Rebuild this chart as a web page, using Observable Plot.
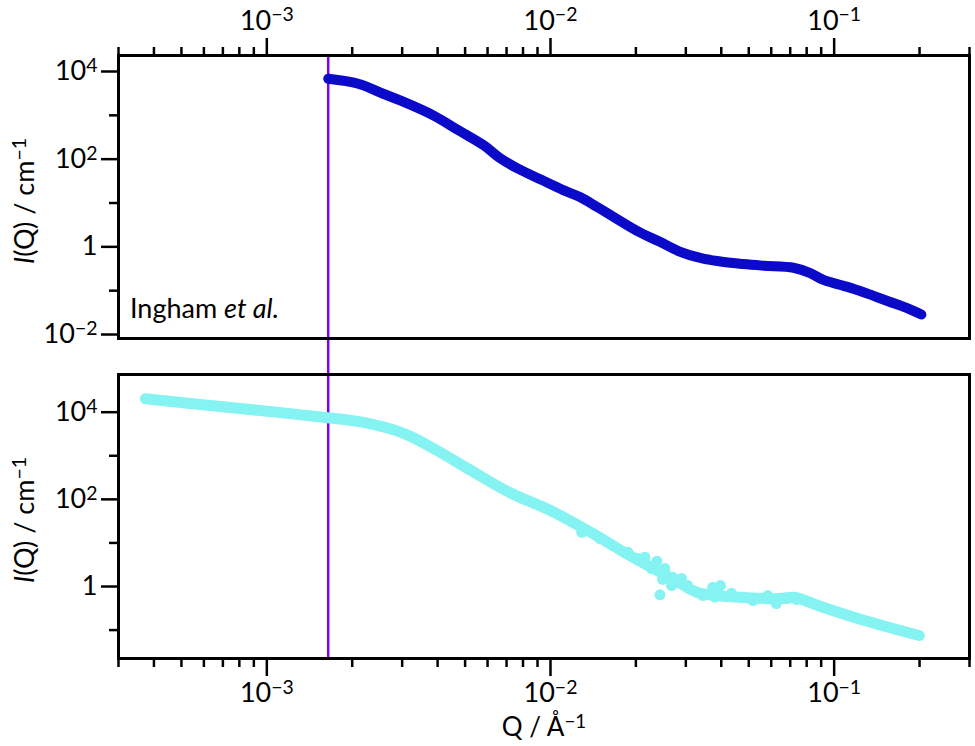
<!DOCTYPE html>
<html><head><meta charset="utf-8">
<script src="https://cdn.jsdelivr.net/npm/d3@7"></script>
<script src="https://cdn.jsdelivr.net/npm/@observablehq/plot@0.6"></script>
<style>
body{margin:0;background:#fff;}
#chart{position:relative;width:975px;height:746px;font-family:Lato,sans-serif;}
#chart svg{position:absolute;left:0;}
</style></head><body><div id="chart"></div>
<script>
// ---- data ----
const topQ = [1.646e-3, 2.10e-3, 2.57e-3, 2.95e-3, 3.86e-3, 4.74e-3, 5.81e-3, 6.66e-3, 7.62e-3, 9.33e-3, 1.109e-2, 1.27e-2, 1.455e-2, 1.67e-2, 2.05e-2, 2.42e-2, 2.87e-2, 3.40e-2, 4.03e-2, 4.78e-2, 5.66e-2, 7.19e-2, 8.24e-2, 9.12e-2, 0.1045, 0.1197, 0.137, 0.1567, 0.180, 0.203];
const topI = [6820, 5250, 3110, 2190, 1000, 456, 208, 104, 62.4, 33.3, 19.7, 13.7, 8.24, 4.81, 2.19, 1.32, 0.77, 0.553, 0.456, 0.404, 0.37, 0.333, 0.252, 0.178, 0.137, 0.105, 0.077, 0.056, 0.0404, 0.0285];

const bottomQ = [3.73e-4, 5.83e-4, 9.5e-4, 1.606e-3, 2.17e-3, 3.05e-3, 3.98e-3, 5.25e-3, 7.13e-3, 1.0e-2, 1.41e-2, 1.85e-2, 2.26e-2, 2.77e-2, 3.28e-2, 4.61e-2, 6.49e-2, 7.2e-2, 9.12e-2, 0.128, 0.1995];
const bottomI = [20280, 15000, 10900, 7550, 5890, 3240, 1321, 459, 146, 55.4, 16.4, 5.71, 2.77, 1.37, 0.74, 0.568, 0.53, 0.568, 0.335, 0.166, 0.075];

const noiseQ = [0.01288, 0.01494, 0.0166, 0.01875, 0.02032, 0.02152, 0.0227, 0.02371, 0.0253, 0.02483, 0.02673, 0.02698, 0.02897, 0.03048, 0.03273, 0.03444, 0.03733, 0.03973, 0.03794, 0.04347, 0.04765, 0.05166, 0.05834, 0.06253, 0.06855, 0.07362, 0.02430];
const noiseI = [17.6, 12.6, 8.73, 6.12, 4.39, 4.70, 2.59, 3.81, 2.59, 1.45, 1.05, 1.63, 1.53, 1.05, 0.74, 0.62, 0.96, 1.05, 0.568, 0.70, 0.568, 0.477, 0.62, 0.407, 0.53, 0.503, 0.645];

const markerQ = 1.646e-3;

const xDomain = [3e-4, 0.3];
const yTopDomain = [0.00811, 23170];
const yBotDomain = [0.0223, 73280];
const xMajor = [1e-3, 1e-2, 1e-1];
const xMinor = [3e-4,4e-4,5e-4,6e-4,7e-4,8e-4,9e-4, 2e-3,3e-3,4e-3,5e-3,6e-3,7e-3,8e-3,9e-3, 2e-2,3e-2,4e-2,5e-2,6e-2,7e-2,8e-2,9e-2, 2e-1,3e-1];
const yTopMajor = [1e-2, 1, 1e2, 1e4];
const yTopMinor = [1e-1, 10, 1e3];
const yBotMajor = [1, 1e2, 1e4];
const yBotMinor = [1e-1, 10, 1e3];

const sourceLabel = ["Ingham ", "et al."];
const yTitle = ["I", "(Q) / cm", "−1"];
const xTitle = ["Q / Å", "−1"];

// ---- styles ----
const BLUE = "#0a0ac8", CYAN = "#86f3f3", PURPLE = "#8000ff";
const FONT = "Lato, sans-serif";
const FS = 27;
const topData = topQ.map((q,i)=>({q, i: topI[i]}));
const botData = bottomQ.map((q,i)=>({q, i: bottomI[i]}));
const noiseData = noiseQ.map((q,i)=>({q, i: noiseI[i]}));

const fmt = d => d === 1 ? "1" : "10^" + String(Math.round(Math.log10(d))).replace("-", "−");
const blank = () => "";
const style = {background:"transparent", fontFamily:FONT, fontSize:FS+"px", color:"black", overflow:"visible"};
const common = {width:975, marginLeft:118, marginRight:6, style,
  x:{type:"log", domain:xDomain, axis:null}};

function sup(svg){
  d3.select(svg).selectAll("text").each(function(){
    const t = this.textContent, k = t.indexOf("^");
    if (k < 0) return;
    const s = d3.select(this);
    s.text(t.slice(0,k));
    s.append("tspan").attr("dy","-0.42em").attr("font-size","0.72em").text(t.slice(k+1));
  });
}

const chart = document.getElementById("chart");

// overlay vertical marker (behind panels)
const overlay = Plot.plot({
  width:975, height:746, marginTop:55, marginBottom:88, marginLeft:118, marginRight:6,
  style:{background:"transparent"},
  x:{type:"log", domain:xDomain, axis:null},
  marks:[Plot.ruleX([markerQ], {stroke:PURPLE, strokeWidth:2.5})]
});
overlay.style.top = "0px";
chart.appendChild(overlay);

// top panel
const topPlot = Plot.plot({
  ...common, height:346, marginTop:55, marginBottom:8,
  y:{type:"log", domain:yTopDomain, axis:null},
  marks:[
    Plot.line(topData, {x:"q", y:"i", stroke:BLUE, strokeWidth:10, strokeLinecap:"round", strokeLinejoin:"round", curve:"catmull-rom"}),
    Plot.axisX({ticks:xMajor, anchor:"top", tickSize:18, tickPadding:8, strokeWidth:2.5, tickFormat:fmt, label:null}),
    Plot.axisX({ticks:xMinor, anchor:"top", tickSize:9, strokeWidth:2.5, tickFormat:blank, label:null}),
    Plot.axisY({ticks:yTopMajor, anchor:"left", tickSize:17, tickPadding:4, strokeWidth:2.5, tickFormat:fmt, label:null}),
    Plot.axisY({ticks:yTopMinor, anchor:"left", tickSize:9, strokeWidth:2.5, tickFormat:blank, label:null}),
    Plot.frame({stroke:"black", strokeWidth:3})
  ]
});
topPlot.style.top = "0px";
sup(topPlot);
chart.appendChild(topPlot);

// bottom panel
const botPlot = Plot.plot({
  ...common, height:386, marginTop:14, marginBottom:88,
  y:{type:"log", domain:yBotDomain, axis:null},
  marks:[
    Plot.line(botData, {x:"q", y:"i", stroke:CYAN, strokeWidth:11, strokeLinecap:"round", strokeLinejoin:"round", curve:"catmull-rom"}),
    Plot.dot(noiseData, {x:"q", y:"i", r:5.5, fill:CYAN}),
    Plot.axisX({ticks:xMajor, anchor:"bottom", tickSize:18, tickPadding:6, strokeWidth:2.5, tickFormat:fmt, label:null}),
    Plot.axisX({ticks:xMinor, anchor:"bottom", tickSize:9, strokeWidth:2.5, tickFormat:blank, label:null}),
    Plot.axisY({ticks:yBotMajor, anchor:"left", tickSize:17, tickPadding:4, strokeWidth:2.5, tickFormat:fmt, label:null}),
    Plot.axisY({ticks:yBotMinor, anchor:"left", tickSize:9, strokeWidth:2.5, tickFormat:blank, label:null}),
    Plot.frame({stroke:"black", strokeWidth:3})
  ]
});
botPlot.style.top = "360px";
sup(botPlot);
chart.appendChild(botPlot);

// titles / annotations
function yLabel(svg, cy){
  const t = d3.select(svg).append("text")
    .attr("transform", `translate(34,${cy}) rotate(-90)`)
    .attr("text-anchor","middle").attr("font-size",FS).attr("fill","black");
  t.append("tspan").attr("font-style","italic").text(yTitle[0]);
  t.append("tspan").text(yTitle[1]);
  t.append("tspan").attr("dy","-0.42em").attr("font-size","0.72em").text(yTitle[2]);
}
yLabel(topPlot, 201);
yLabel(botPlot, 160);

const src = d3.select(topPlot).append("text").attr("x",130).attr("y",318)
  .attr("text-anchor","start").attr("font-size",FS).attr("fill","black");
src.append("tspan").text(sourceLabel[0]);
src.append("tspan").attr("font-style","italic").text(sourceLabel[1]);

const xt = d3.select(botPlot).append("text").attr("x",544).attr("y",376)
  .attr("text-anchor","middle").attr("font-size",26).attr("fill","black");
xt.append("tspan").text(xTitle[0]);
xt.append("tspan").attr("dy","-0.42em").attr("font-size","0.72em").text(xTitle[1]);
</script></body></html>
